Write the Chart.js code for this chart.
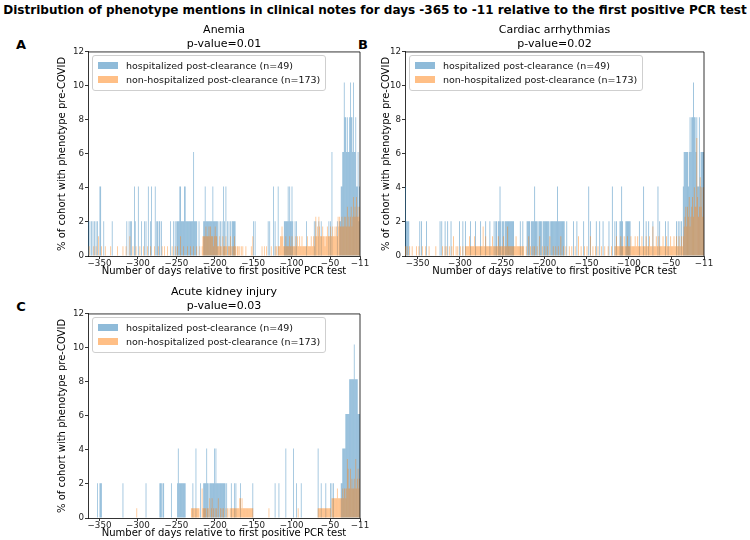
<!DOCTYPE html>
<html><head><meta charset="utf-8">
<script src="https://cdn.jsdelivr.net/npm/chart.js@4.4.1/dist/chart.umd.min.js"></script>
<style>
html,body{margin:0;padding:0;background:#fff;}
body{width:750px;height:540px;overflow:hidden;position:relative;font-family:"DejaVu Sans",sans-serif;color:#000;}
#suptitle{position:absolute;left:0;top:3px;width:750px;text-align:center;font-weight:bold;white-space:nowrap;font-size:10.6px;line-height:14px;}
.letter{position:absolute;font-weight:bold;font-size:13px;line-height:13px;transform:translate(-50%,-50%);}
canvas{position:absolute;}
.legend{position:absolute;border:1px solid #cfcfcf;border-radius:3px;background:rgba(255,255,255,0.8);padding:3px 5px 3px 5px;font-size:9.5px;line-height:12px;color:#111;white-space:nowrap;}
.row{display:flex;align-items:center;height:14px;}
.sw{display:inline-block;width:20px;height:7px;margin-right:8px;flex:none;}
</style></head><body>
<div id="suptitle">Distribution of phenotype mentions in clinical notes for days -365 to -11 relative to the first positive PCR test</div>
<div class="letter" style="left:21px;top:44px">A</div>
<div class="letter" style="left:363px;top:44px">B</div>
<div class="letter" style="left:21px;top:306px">C</div>
<canvas id="cA" width="372" height="285" style="left:0;top:0"></canvas>
<canvas id="cB" width="371" height="285" style="left:344px;top:0"></canvas>
<canvas id="cC" width="372" height="285" style="left:0;top:262px"></canvas>
<script>
// ---- data ----
const panelTitles = [["Anemia","p-value=0.01"],["Cardiac arrhythmias","p-value=0.02"],["Acute kidney injury","p-value=0.03"]];
const legendLabels = ["hospitalized post-clearance (n=49)","non-hospitalized post-clearance (n=173)"];
const cohortSizes = [49, 173];
const xTickValues = [-350,-300,-250,-200,-150,-100,-50,-11];
const yTickValues = [0,2,4,6,8,10,12];
const dayRange = [-365,-11];
const xTitle = "Number of days relative to first positive PCR test";
const yTitle = "% of cohort with phenotype pre-COVID";

// [day, number of patients] per day (bins of 1 day)
const anemiaHosp = [[-365,1],[-363,1],[-361,1],[-359,1],[-357,1],[-355,1],[-353,1],[-350,2],[-349,2],[-345,1],[-334,1],[-315,1],[-312,1],[-310,1],[-309,1],[-305,2],[-304,1],[-300,2],[-296,1],[-292,1],[-290,1],[-287,2],[-284,1],[-283,2],[-278,2],[-276,1],[-275,1],[-273,1],[-272,1],[-270,1],[-258,1],[-254,1],[-252,1],
[-250,1],[-249,1],[-248,1],[-247,1],[-246,2],[-245,2],[-244,1],[-243,1],[-242,1],[-241,1],[-240,2],[-239,2],[-238,1],[-237,1],[-236,1],[-235,1],[-234,1],[-233,1],[-232,1],[-231,1],[-230,1],[-229,1],[-228,3],[-227,1],[-226,1],[-225,1],[-224,1],[-221,1],
[-215,1],[-214,1],[-213,2],[-212,1],[-211,1],[-210,1],[-209,1],[-208,1],[-207,1],[-206,1],[-205,1],[-204,1],[-203,2],[-202,1],[-201,1],[-200,1],[-199,1],[-198,1],[-197,1],
[-195,1],[-193,1],[-191,1],[-189,2],[-188,1],[-186,2],[-184,1],[-182,1],[-180,1],[-178,1],[-177,1],[-176,1],[-175,1],[-174,1],
[-150,1],[-148,1],[-131,1],[-129,1],[-124,2],[-122,1],[-118,2],
[-110,1],[-109,1],[-108,1],[-107,1],[-106,1],[-105,2],[-104,1],[-103,2],[-102,1],[-101,1],[-100,2],[-99,1],
[-96,1],[-94,1],[-81,1],[-71,1],[-69,1],[-65,1],[-62,1],[-52,1],[-50,1],[-48,3],[-41,1],[-38,1],
[-37,1],[-36,2],[-35,2],[-34,3],[-33,3],[-32,5],[-31,4],[-30,4],[-29,3],[-28,4],[-27,3],[-26,3],[-25,4],[-24,5],[-23,4],[-22,4],[-21,3],[-20,5],[-19,3],[-18,3],[-17,4],[-16,2],[-15,2],[-14,3],[-13,1],[-12,2]];

const anemiaNonHosp = [[-364,1],[-358,1],[-355,1],[-352,2],[-348,1],[-343,1],[-336,1],[-327,1],[-320,1],[-316,1],[-311,2],[-307,1],[-303,1],[-298,1],[-293,1],[-288,1],[-284,1],[-279,1],[-274,1],[-269,1],[-266,1],[-262,1],[-256,1],[-252,1],[-249,1],[-245,2],[-241,1],[-236,1],[-232,1],[-228,1],[-224,1],[-220,1],
[-217,1],[-216,2],[-215,2],[-214,2],[-213,2],[-212,3],[-211,2],[-210,2],[-209,2],[-208,3],[-207,2],[-206,3],[-205,2],[-204,2],[-203,2],[-202,1],[-201,2],[-200,3],[-199,2],[-198,2],[-197,1],[-196,1],[-195,1],[-194,2],[-193,1],[-192,1],[-190,2],[-189,1],[-188,1],[-187,1],[-186,2],[-185,1],[-183,1],[-182,1],[-181,1],[-180,2],[-179,1],[-177,1],[-176,1],[-175,2],[-174,1],[-173,1],[-171,1],[-170,1],[-168,1],[-166,1],[-164,1],
[-160,1],[-153,1],[-151,2],[-139,1],[-136,1],[-133,1],[-127,1],[-122,1],[-120,1],
[-118,1],[-117,1],[-116,1],[-115,2],[-114,2],[-113,3],[-112,2],[-111,1],[-110,1],[-109,1],[-108,2],[-107,1],[-106,1],[-105,1],[-104,1],[-103,2],[-102,1],[-101,1],[-100,2],[-99,1],[-98,1],[-97,1],[-96,1],[-95,2],[-94,1],[-93,2],[-92,1],[-91,1],[-90,2],[-89,1],[-88,1],[-87,2],[-86,1],[-85,1],[-84,1],[-83,1],[-82,1],[-81,1],[-80,2],[-79,1],[-78,1],[-77,1],[-76,1],[-75,2],[-74,1],[-73,1],[-72,2],[-71,1],[-70,2],[-69,4],[-68,2],[-67,3],[-66,2],[-65,4],[-64,3],[-63,2],[-62,2],[-61,2],[-60,3],[-59,2],[-58,2],[-57,1],[-56,2],[-55,2],[-54,3],[-53,2],[-52,2],[-51,2],[-50,3],[-49,2],[-48,2],[-47,3],[-46,2],[-45,2],[-44,3],[-43,2],[-42,3],[-41,2],[-40,4],[-39,3],[-38,4],[-37,3],[-36,3],[-35,4],[-34,3],[-33,3],[-32,4],[-31,3],[-30,4],[-29,3],[-28,5],[-27,3],[-26,4],[-25,3],[-24,4],[-23,5],[-22,3],[-21,4],[-20,6],[-19,4],[-18,5],[-17,4],[-16,6],[-15,4],[-14,5],[-13,4],[-12,5]];

const cardiacHosp = [[-365,2],[-364,1],[-363,1],[-362,1],[-361,1],[-348,1],[-346,1],[-340,1],[-324,1],[-322,1],[-318,1],[-315,1],[-311,1],[-301,1],[-297,1],[-294,1],[-288,1],[-282,1],[-276,1],[-270,1],[-265,1],[-260,1],
[-258,1],[-257,1],[-255,1],[-254,1],[-253,2],[-252,1],[-250,1],[-249,1],[-247,1],[-246,1],[-245,1],[-244,1],[-243,1],[-242,1],[-241,1],[-240,1],[-239,1],[-238,1],[-237,1],[-229,1],[-226,1],
[-221,1],[-220,1],[-219,1],[-218,1],[-216,1],[-215,1],[-214,1],[-213,1],[-212,2],[-211,1],[-210,1],[-209,1],[-207,1],[-206,1],[-205,1],[-204,1],[-202,1],[-201,1],[-200,1],[-199,1],[-198,1],[-197,1],[-196,1],[-195,1],[-193,1],[-192,1],[-191,1],[-190,1],[-189,1],[-188,1],[-187,1],[-186,1],[-185,2],[-184,1],[-183,1],[-182,1],[-181,1],[-180,1],[-179,1],[-178,1],[-177,1],
[-174,1],[-166,1],[-162,1],[-154,1],[-148,2],[-146,1],[-139,1],[-135,1],[-131,1],[-124,1],[-120,2],[-117,1],[-115,1],[-111,1],[-110,1],[-109,2],[-108,1],[-104,1],[-103,1],[-102,1],[-101,1],[-100,1],[-99,1],
[-88,1],[-83,2],[-80,1],[-77,1],[-72,1],[-66,2],[-64,1],[-57,1],[-54,1],[-44,1],[-42,1],[-40,1],[-38,1],
[-36,2],[-35,3],[-34,3],[-33,3],[-32,3],[-31,3],[-30,2],[-29,3],[-28,4],[-27,3],[-26,4],[-25,4],[-24,5],[-23,4],[-22,4],[-21,3],[-20,4],[-19,2],[-18,2],[-17,4],[-16,2],[-15,3],[-14,3],[-13,3],[-12,3]];

const cardiacNonHosp = [[-365,1],[-363,1],[-360,1],[-357,1],[-352,1],[-349,1],[-345,1],[-341,1],[-337,1],[-329,1],[-321,1],[-318,1],[-316,1],[-313,1],[-310,1],[-308,2],[-305,1],[-303,1],[-300,1],[-297,1],
[-294,1],[-293,1],[-292,1],[-291,1],[-290,1],[-289,2],[-288,1],[-287,1],[-286,1],[-285,1],[-284,1],[-283,2],[-282,1],[-281,1],[-280,1],[-279,1],[-278,1],[-277,1],[-276,1],[-275,1],[-274,1],[-273,3],[-272,1],[-271,1],[-270,2],[-269,1],[-268,1],[-267,1],[-266,1],[-265,1],[-264,1],[-263,1],[-262,2],[-261,1],[-260,1],[-259,1],[-258,1],[-257,1],[-256,1],[-255,2],[-254,1],[-253,1],[-252,1],[-251,1],[-250,1],[-249,2],[-248,1],[-247,1],[-246,1],[-245,1],[-244,3],[-243,1],[-242,1],[-241,1],[-240,1],[-239,1],[-238,1],[-237,1],[-236,1],[-235,1],[-234,2],[-233,1],[-232,1],[-231,1],[-230,1],[-229,1],[-228,1],[-227,1],[-226,1],[-225,1],
[-222,1],[-219,2],[-217,1],[-214,1],[-212,1],[-209,1],[-206,2],[-203,1],[-200,1],[-197,1],[-194,2],[-190,1],[-187,1],[-184,1],[-181,2],[-178,1],[-175,1],[-171,1],[-168,1],[-164,1],[-160,2],[-157,1],[-153,1],[-150,1],[-146,2],[-143,1],[-140,1],[-137,1],[-133,1],[-129,1],[-125,1],[-121,1],
[-117,1],[-116,1],[-115,2],[-114,1],[-113,1],[-112,1],[-111,1],[-110,2],[-109,1],[-108,1],[-107,1],[-106,2],[-105,1],[-104,1],[-103,1],[-102,2],[-101,1],[-100,1],[-99,1],[-98,2],[-97,1],[-96,1],[-95,1],[-94,1],[-93,2],[-92,1],[-91,1],[-90,2],[-89,1],[-88,1],[-87,1],[-86,1],[-85,2],[-84,1],[-83,1],[-82,1],[-81,1],[-80,2],[-79,1],[-78,1],[-77,1],[-76,2],[-75,1],[-74,1],[-73,1],[-72,3],[-71,1],[-70,1],[-69,1],[-68,2],[-67,1],[-66,1],[-65,2],[-64,1],[-63,1],[-62,1],[-61,1],[-60,2],[-59,1],[-58,1],[-57,1],[-56,2],[-55,1],[-54,1],[-53,1],[-52,1],[-51,2],[-50,1],[-49,1],[-48,1],[-47,2],[-46,1],[-45,1],[-44,2],[-43,1],[-42,1],[-41,2],[-40,1],[-39,1],[-38,2],[-37,1],
[-36,2],[-35,3],[-34,4],[-33,5],[-32,3],[-31,5],[-30,4],[-29,6],[-28,3],[-27,4],[-26,5],[-25,6],[-24,4],[-23,7],[-22,5],[-21,5],[-20,12],[-19,6],[-18,4],[-17,5],[-16,8],[-15,5],[-14,7],[-13,4],[-12,7]];

const akiHosp = [[-353,1],[-350,1],[-349,1],[-348,1],[-320,1],[-290,1],[-272,1],[-271,1],[-270,1],[-268,1],[-267,1],[-257,1],
[-249,1],[-248,2],[-247,1],[-246,1],[-245,1],[-244,1],[-243,1],[-242,1],[-241,1],[-240,1],[-239,1],[-229,1],[-225,2],[-219,1],
[-215,1],[-214,1],[-213,1],[-212,1],[-211,2],[-210,1],[-209,1],[-207,1],[-206,1],[-205,1],[-204,1],[-203,1],[-202,1],[-201,2],[-200,1],[-199,2],[-198,1],[-197,1],[-196,1],[-195,1],[-194,1],[-193,1],[-192,1],[-191,1],[-190,1],[-189,1],[-188,1],[-187,1],[-185,1],
[-179,1],[-175,1],[-173,1],[-167,1],[-151,1],[-122,1],[-117,1],[-108,2],[-98,2],[-94,1],[-88,1],[-66,2],[-62,1],[-56,1],[-50,1],[-48,1],[-46,1],
[-36,1],[-35,1],[-34,2],[-33,2],[-32,2],[-31,2],[-30,3],[-29,3],[-28,3],[-27,3],[-26,3],[-25,4],[-24,4],[-23,4],[-22,4],[-21,4],[-20,4],[-19,5],[-18,4],[-17,4],[-16,4],[-15,4],[-14,3],[-13,3],[-12,3]];

const akiNonHosp = [[-302,1],[-231,1],[-230,1],[-229,1],[-228,1],[-227,1],[-226,1],[-225,1],[-224,1],[-223,1],[-222,1],[-221,1],[-217,3],[-216,1],[-215,1],[-214,1],[-213,1],[-212,1],[-210,1],[-209,1],[-207,2],[-205,1],[-204,2],[-202,1],[-200,1],[-198,1],[-196,2],[-193,1],[-191,1],[-189,1],[-186,1],[-184,1],[-182,1],
[-180,1],[-179,1],[-178,1],[-177,1],[-176,1],[-175,1],[-174,1],[-173,1],[-172,1],[-171,1],[-170,1],[-169,1],[-168,2],[-167,2],[-166,1],[-165,2],[-164,1],[-163,1],[-162,1],[-161,1],[-160,1],[-159,1],[-158,1],[-157,1],[-156,1],[-155,1],[-154,1],[-153,1],[-152,1],[-151,1],[-130,1],[-92,1],
[-66,1],[-65,1],[-64,1],[-63,1],[-62,1],[-61,1],[-60,1],[-59,1],[-58,1],[-57,1],[-56,1],[-55,1],[-54,1],[-53,1],[-52,1],[-51,1],[-50,1],
[-48,2],[-47,2],[-46,2],[-45,2],[-44,2],[-43,2],[-42,2],[-41,3],[-40,2],[-39,2],[-38,2],[-37,2],[-36,2],[-35,2],[-34,3],[-33,2],[-32,3],[-31,3],[-30,2],[-29,3],[-28,6],[-27,5],[-26,3],[-25,3],[-24,5],[-23,3],[-22,4],[-21,3],[-20,3],[-19,4],[-18,3],[-17,6],[-16,3],[-15,4],[-14,5],[-13,3],[-12,4]];

// ---- rendering ----
const blue = "rgba(31,119,180,0.5)";
const orange = "rgba(255,127,14,0.5)";
Chart.defaults.font.family = "'DejaVu Sans', sans-serif";
Chart.defaults.color = "#222";

function toSeries(pairs, n){
  const m = new Map(pairs.map(p => [p[0], p[1] / n * 100]));
  const out = [];
  for (let d = dayRange[0]; d < dayRange[1]; d++) out.push({x: d + 0.5, y: m.get(d) || 0});
  return out;
}
const fmt = v => (v < 0 ? "\u2212" + Math.abs(v) : String(v));

const frame = {
  id: "frame",
  afterDraw(chart){
    const {ctx, chartArea:{left, top, right, bottom}} = chart;
    ctx.save();
    ctx.strokeStyle = "#000"; ctx.lineWidth = 0.8;
    ctx.beginPath(); ctx.moveTo(left, top); ctx.lineTo(right, top); ctx.lineTo(right, bottom); ctx.stroke();
    ctx.restore();
  }
};

// box: [y-axis band width, right padding, y-title offset]
function makePanel(id, titleLines, hosp, non, box){
  const canvas = document.getElementById(id);
  const axisGrid = {display:true, drawOnChartArea:false, drawTicks:true, tickLength:3, color:"#000", lineWidth:0.8, offset:false};
  const chart = new Chart(canvas, {
    type: "bar",
    data: {datasets: [
      {label: legendLabels[0], data: toSeries(hosp, cohortSizes[0]), backgroundColor: blue, order: 2, grouped: false, inflateAmount: 0, barPercentage: 1, categoryPercentage: 1, borderWidth: 0},
      {label: legendLabels[1], data: toSeries(non, cohortSizes[1]), backgroundColor: orange, order: 1, grouped: false, inflateAmount: 0, barPercentage: 1, categoryPercentage: 1, borderWidth: 0}
    ]},
    options: {
      responsive: false, animation: false, devicePixelRatio: 1,
      layout: {padding: {left: 0, right: box[1], top: 0, bottom: 0}},
      plugins: {
        legend: {display: false}, tooltip: {enabled: false},
        title: {display: true, fullSize: false, text: titleLines, color: "#000", font: {size: 11, weight: "normal", lineHeight: 1.27}, padding: {top: 23, bottom: 1}}
      },
      scales: {
        x: {type: "linear", min: dayRange[0], max: dayRange[1], offset: false,
            grid: axisGrid, border: {display: true, color: "#000", width: 0.8},
            ticks: {font: {size: 8.7, lineHeight: 1}, padding: 0, color: "#222", maxRotation: 0, autoSkip: false, callback: v => fmt(v)},
            afterBuildTicks: s => { s.ticks = xTickValues.map(v => ({value: v})); },
            afterFit: s => { s.height = 29; },
            title: {display: true, text: xTitle, color: "#000", font: {size: 10, lineHeight: 1.2}, padding: {top: 0, bottom: 8}}},
        y: {min: 0, max: 12,
            grid: axisGrid, border: {display: true, color: "#000", width: 0.8},
            ticks: {font: {size: 8.7}, padding: 1, color: "#222", callback: v => fmt(v)},
            afterBuildTicks: s => { s.ticks = yTickValues.map(v => ({value: v})); },
            afterFit: s => { s.width = box[0]; },
            title: {display: true, text: yTitle, color: "#000", font: {size: 10, lineHeight: 1.2}, padding: {top: box[2], bottom: 0}}}
      }
    },
    plugins: [frame]
  });
  // legend inside the axes, upper left
  const lg = document.createElement("div");
  lg.className = "legend";
  lg.innerHTML = `<div class="row"><span class="sw" style="background:${blue}"></span>${legendLabels[0]}</div>` +
                 `<div class="row"><span class="sw" style="background:${orange}"></span>${legendLabels[1]}</div>`;
  lg.style.left = (canvas.offsetLeft + chart.chartArea.left + 4) + "px";
  lg.style.top = (canvas.offsetTop + chart.chartArea.top + 3) + "px";
  document.body.appendChild(lg);
  return chart;
}

makePanel("cA", panelTitles[0], anemiaHosp, anemiaNonHosp, [88, 12, 56]);
makePanel("cB", panelTitles[1], cardiacHosp, cardiacNonHosp, [61, 11, 36]);
makePanel("cC", panelTitles[2], akiHosp, akiNonHosp, [88, 12, 56]);

// fit the figure title to the figure width
const st = document.getElementById("suptitle");
const mctx = document.createElement("canvas").getContext("2d");
mctx.font = 'bold 100px "DejaVu Sans"';
const tw = mctx.measureText(st.textContent).width;
st.style.fontSize = (744 / tw * 100).toFixed(2) + "px";
</script>
</body></html>
